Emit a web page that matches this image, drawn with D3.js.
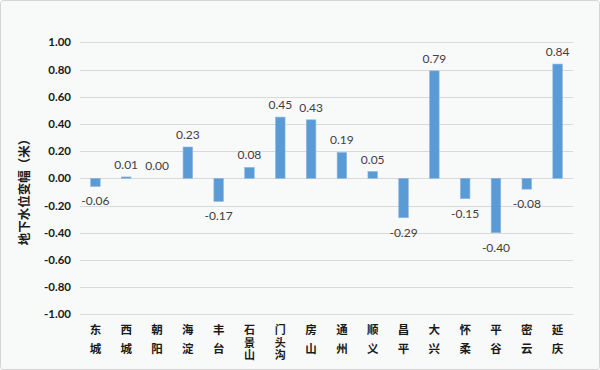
<!DOCTYPE html>
<html>
<head>
<meta charset="utf-8">
<script src="https://cdn.jsdelivr.net/npm/d3@7"></script>
<style>
  body { margin: 0; background: #fff; }
  svg { display: block; }
</style>
</head>
<body>
<svg id="chart" width="600" height="370"></svg>
<script>
var districts = ["东城","西城","朝阳","海淀","丰台","石景山","门头沟","房山","通州","顺义","昌平","大兴","怀柔","平谷","密云","延庆"];
var changes = [-0.06, 0.01, 0.00, 0.23, -0.17, 0.08, 0.45, 0.43, 0.19, 0.05, -0.29, 0.79, -0.15, -0.40, -0.08, 0.84];
var yTicks = [-1, -0.8, -0.6, -0.4, -0.2, 0, 0.2, 0.4, 0.6, 0.8, 1];
var yTitle = "地下水位变幅（米）";

var svg = d3.select("#chart");
var W = 600, H = 370;
// plot box (note: "top" is reserved on window, so use p* names)
var pLeft = 80, pRight = 573, pTop = 42.3, pBottom = 314.3;

// plain hyphen for negatives, like the excel original
var fmt = d3.formatLocale({decimal:".", thousands:",", grouping:[3], currency:["",""], minus:"-"}).format(".2f");

svg.append("rect").attr("x",0.5).attr("y",0.5).attr("width",W-1).attr("height",H-1)
  .attr("rx",3).attr("fill","#f8f9f9").attr("stroke","#d4d4d4");

var x = d3.scaleBand().domain(districts).range([pLeft,pRight]).paddingInner(0.69).paddingOuter(0.345);
var y = d3.scaleLinear().domain([-1,1]).range([pBottom,pTop]);

// grid
svg.append("g").selectAll("line").data(yTicks).enter().append("line")
  .attr("x1",pLeft).attr("x2",pRight)
  .attr("y1",d=>Math.round(y(d))+0.5).attr("y2",d=>Math.round(y(d))+0.5)
  .attr("stroke","#d9d9d9").attr("stroke-width",1);

// y axis labels
var yAxis = d3.axisLeft(y).tickValues(yTicks).tickFormat(fmt).tickSize(0).tickPadding(9);
var ya = svg.append("g").attr("transform","translate("+pLeft+",0)").call(yAxis);
ya.select(".domain").remove();
ya.selectAll("text").attr("font-family","Lato, 'Open Sans', sans-serif").attr("font-weight","bold")
  .attr("font-size",11.5).attr("fill","#1a1a1a");

// bars
svg.append("g").selectAll("rect").data(changes).enter().append("rect")
  .attr("x",(d,i)=>x(districts[i]))
  .attr("width",x.bandwidth())
  .attr("y",d=>y(Math.max(0,d)))
  .attr("height",d=>Math.abs(y(d)-y(0)))
  .attr("fill","#5b9bd5").attr("stroke","#8db8e3").attr("stroke-width",0.6);

// data labels
svg.append("g").selectAll("text").data(changes).enter().append("text")
  .attr("x",(d,i)=>x(districts[i])+x.bandwidth()/2)
  .attr("y",d=>d>=0 ? y(d)-8 : y(d)+19)
  .attr("text-anchor","middle")
  .attr("font-family","Lato, 'Open Sans', sans-serif").attr("font-size",12)
  .attr("fill","#404040")
  .text(d=>fmt(d));

// category labels, stacked characters
var cats = svg.append("g").selectAll("g").data(districts).enter().append("g")
  .attr("transform",d=>"translate("+(x(d)+x.bandwidth()/2)+",0)");
cats.each(function(d){
  var chars = d.split("");
  var step = chars.length > 2 ? 12.5 : 19;
  d3.select(this).selectAll("text").data(chars).enter().append("text")
    .attr("x",0).attr("y",(c,j)=>334+j*step)
    .attr("text-anchor","middle")
    .attr("font-family","'Noto Sans CJK SC', sans-serif").attr("font-weight","bold")
    .attr("font-size",chars.length > 2 ? 11 : 11.5).attr("fill","#1a1a1a")
    .text(c=>c);
});

// y title
svg.append("text")
  .attr("transform","translate(29,189) rotate(-90)")
  .attr("text-anchor","middle")
  .attr("font-family","'Noto Sans CJK SC', sans-serif").attr("font-weight","bold")
  .attr("font-size",12.5).attr("fill","#1a1a1a")
  .text(yTitle);
</script>
</body>
</html>
